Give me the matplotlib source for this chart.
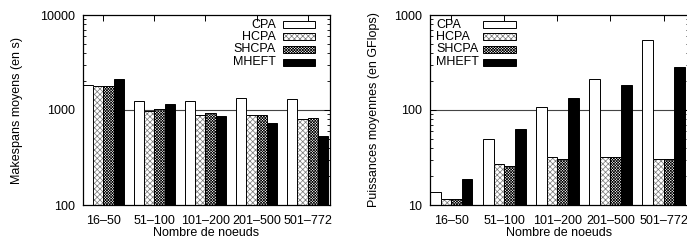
import matplotlib
matplotlib.use("Agg")
import matplotlib.pyplot as plt
import matplotlib.patches as mpatches
import numpy as np

plt.rcParams['font.family'] = ['Liberation Sans', 'DejaVu Sans']
plt.rcParams['font.size'] = 9
plt.rcParams['hatch.linewidth'] = 0.5

# data
groups = ['16–50', '51–100', '101–200', '201–500', '501–772']
algos = ['CPA', 'HCPA', 'SHCPA', 'MHEFT']

makespan = {
    'CPA':   [1830, 1245, 1253, 1349, 1306],
    'HCPA':  [1800, 976, 880, 880, 811],
    'SHCPA': [1800, 1025, 923, 886, 824],
    'MHEFT': [2120, 1157, 865, 724, 532],
}
puissance = {
    'CPA':   [13.6, 49.5, 108, 214, 541],
    'HCPA':  [11.6, 27.0, 31.8, 31.8, 30.3],
    'SHCPA': [11.5, 25.7, 30.3, 31.8, 30.3],
    'MHEFT': [18.9, 62.6, 132.7, 183, 281],
}

# fill styles, gnuplot-like
styles = {
    'CPA':   dict(face='white', hatch=None, hcol=None),
    'HCPA':  dict(face='white', hatch='x' * 6, hcol='#777777'),
    'SHCPA': dict(face='white', hatch='x' * 12, hcol='#000000'),
    'MHEFT': dict(face='black', hatch=None, hcol=None),
}

W, H = 687, 244
fig = plt.figure(figsize=(W / 100, H / 100), dpi=100)


def px_rect(x0, y0, x1, y1):
    return [x0 / W, 1 - y1 / H, (x1 - x0) / W, (y1 - y0) / H]


def draw_bars(ax, data, bw=0.2):
    x = np.arange(len(groups))
    for j, a in enumerate(algos):
        st = styles[a]
        pos = x + (j - 1.5) * bw
        if st['hatch']:
            ax.bar(pos, data[a], width=bw, color=st['face'], edgecolor=st['hcol'],
                   hatch=st['hatch'], linewidth=0, zorder=2)
            ax.bar(pos, data[a], width=bw, fill=False, edgecolor='black',
                   linewidth=0.7, zorder=3)
        else:
            ax.bar(pos, data[a], width=bw, color=st['face'], edgecolor='black',
                   linewidth=0.7, zorder=2)
    ax.set_xticks(x)
    ax.set_xticklabels(groups)
    ax.set_yscale('log')
    ax.tick_params(which='both', direction='in', top=True, right=True)
    ax.tick_params(which='major', length=4, width=0.7)
    ax.tick_params(which='minor', length=2, width=0.6)
    ax.tick_params(axis='x', which='minor', bottom=False, top=False)
    ax.tick_params(axis='x', pad=7)
    ax.tick_params(axis='y', pad=6)
    for sp in ax.spines.values():
        sp.set_linewidth(0.9)
    ax.set_xlabel('Nombre de noeuds', labelpad=0)


def legend_px(x_text, ha, x_box0, x_box1, rows):
    for a, yc in zip(algos, rows):
        st = styles[a]
        fig.text(x_text / W, 1 - yc / H, a, ha=ha, va='center')
        r = mpatches.Rectangle((x_box0 / W, 1 - (yc + 3.5) / H),
                               (x_box1 - x_box0) / W, 7 / H,
                               transform=fig.transFigure, facecolor=st['face'],
                               edgecolor=st['hcol'] if st['hatch'] else 'black',
                               hatch=st['hatch'], linewidth=0 if st['hatch'] else 0.7)
        fig.patches.append(r)
        if st['hatch']:
            fig.patches.append(mpatches.Rectangle((x_box0 / W, 1 - (yc + 3.5) / H),
                                                  (x_box1 - x_box0) / W, 7 / H,
                                                  transform=fig.transFigure, fill=False,
                                                  edgecolor='black', linewidth=0.7))


rows = [24.5, 37, 49.5, 62]

# left panel: makespans
ax1 = fig.add_axes(px_rect(83, 15, 330, 205))
ax1.axhline(1000, color='#444444', linewidth=0.8, zorder=1)
draw_bars(ax1, makespan)
ax1.set_ylim(100, 10000)
ax1.set_xlim(-0.4, 4.44)
ax1.set_ylabel('Makespans moyens (en s)', labelpad=12)
ax1.yaxis.set_major_formatter(matplotlib.ticker.FuncFormatter(lambda v, p: f'{v:g}'))
ax1.yaxis.set_minor_formatter(matplotlib.ticker.NullFormatter())
legend_px(276, 'right', 283, 315, rows)

# right panel: puissances
ax2 = fig.add_axes(px_rect(430, 15, 689, 205))
ax2.axhline(100, color='#444444', linewidth=0.8, zorder=1)
draw_bars(ax2, puissance)
ax2.set_ylim(10, 1000)
ax2.set_xlim(-0.4, 4.48)
ax2.set_ylabel('Puissances moyennes (en GFlops)', labelpad=10)
ax2.yaxis.set_major_formatter(matplotlib.ticker.FuncFormatter(lambda v, p: f'{v:g}'))
ax2.yaxis.set_minor_formatter(matplotlib.ticker.NullFormatter())
legend_px(436, 'left', 483, 516, rows)

fig.savefig('out.png', dpi=100)
